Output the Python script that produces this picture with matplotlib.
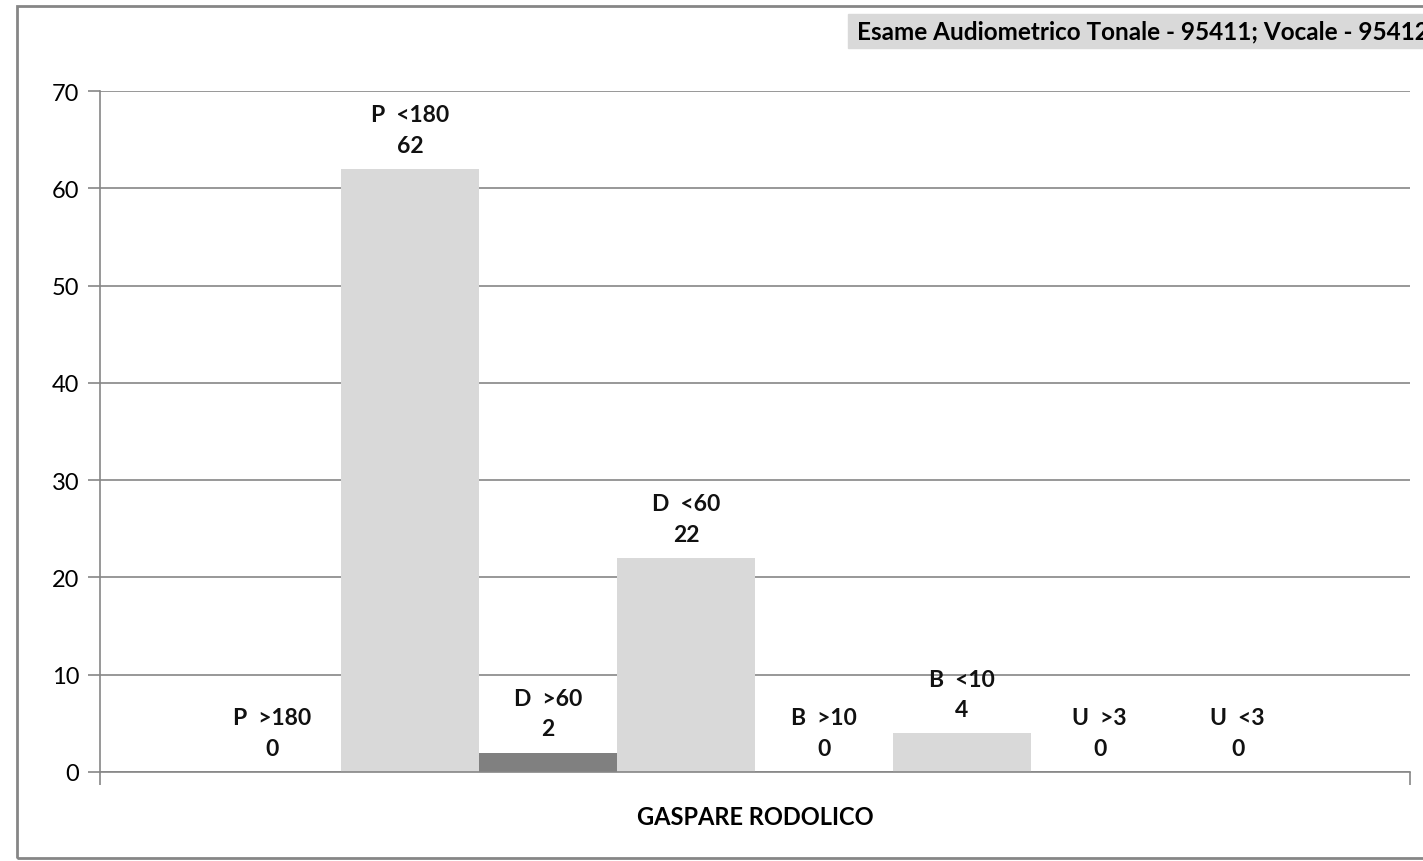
import matplotlib.pyplot as plt
import numpy as np

# Data
labels = ["P  >180", "P  <180", "D  >60", "D  <60", "B  >10", "B  <10", "U  >3", "U  <3"]
values = [0, 62, 2, 22, 0, 4, 0, 0]
colors = ["#d9d9d9", "#d9d9d9", "#808080", "#d9d9d9", "#d9d9d9", "#d9d9d9", "#d9d9d9", "#d9d9d9"]
category = "GASPARE RODOLICO"
title = "Esame Audiometrico Tonale - 95411; Vocale - 95412"
yticks = [0, 10, 20, 30, 40, 50, 60, 70]

plt.rcParams['font.family'] = ['Lato', 'DejaVu Sans']

fig = plt.figure(figsize=(14.23, 8.62), dpi=100)
ax = fig.add_axes([100 / 1423, 89 / 862, 1310 / 1423, 681 / 862])

# bars sit side by side in one group
n = len(values)
w = 1.0
x = np.arange(n) * w
ax.bar(x, values, width=w, color=colors, zorder=2)
lo, hi = x[0] - 0.5 * w - 0.75, x[-1] + 0.5 * w + 0.75
ax.set_xlim(lo, hi)
ax.set_ylim(0, 70)

for xi, v, lab in zip(x, values, labels):
    ax.annotate(f"{lab}\n{v}", (xi, v), xytext=(0, 9.5), textcoords="offset points",
                ha="center", va="bottom", fontsize=16.5, fontweight="bold",
                linespacing=1.55, color="#111111", zorder=3)

ax.set_yticks(yticks)
ax.yaxis.grid(True, color="#868686", linewidth=1.2, zorder=0)
ax.tick_params(axis="y", length=9, width=1.2, color="#868686", labelsize=17, pad=6)
ax.set_xticks([lo, hi])
ax.set_xticklabels(["", ""])
ax.tick_params(axis="x", length=9, width=1.2, color="#868686", direction="out")
for s in ["top", "right"]:
    ax.spines[s].set_visible(False)
for s in ["left", "bottom"]:
    ax.spines[s].set_color("#868686")
    ax.spines[s].set_linewidth(1.2)

fig.text(755 / 1423, 1 - 818 / 862, category, ha="center", va="center",
         fontsize=17, fontweight="bold")

# title box at top right, cut by the edge as in the original
fig.patches.append(plt.Rectangle((848 / 1423, 1 - 49 / 862), 600 / 1423, 34 / 862,
                                 transform=fig.transFigure, color="#d9d9d9", zorder=1))
fig.text(857 / 1423, 1 - 32 / 862, title, ha="left", va="center",
         fontsize=17.5, fontweight="bold", zorder=2)

# outer chart border
fig.patches.append(plt.Rectangle((17 / 1423, 3 / 862), 1500 / 1423, 852 / 862,
                                 transform=fig.transFigure, fill=False,
                                 edgecolor="#868686", linewidth=2, zorder=0))

fig.savefig("out.png", dpi=100)
